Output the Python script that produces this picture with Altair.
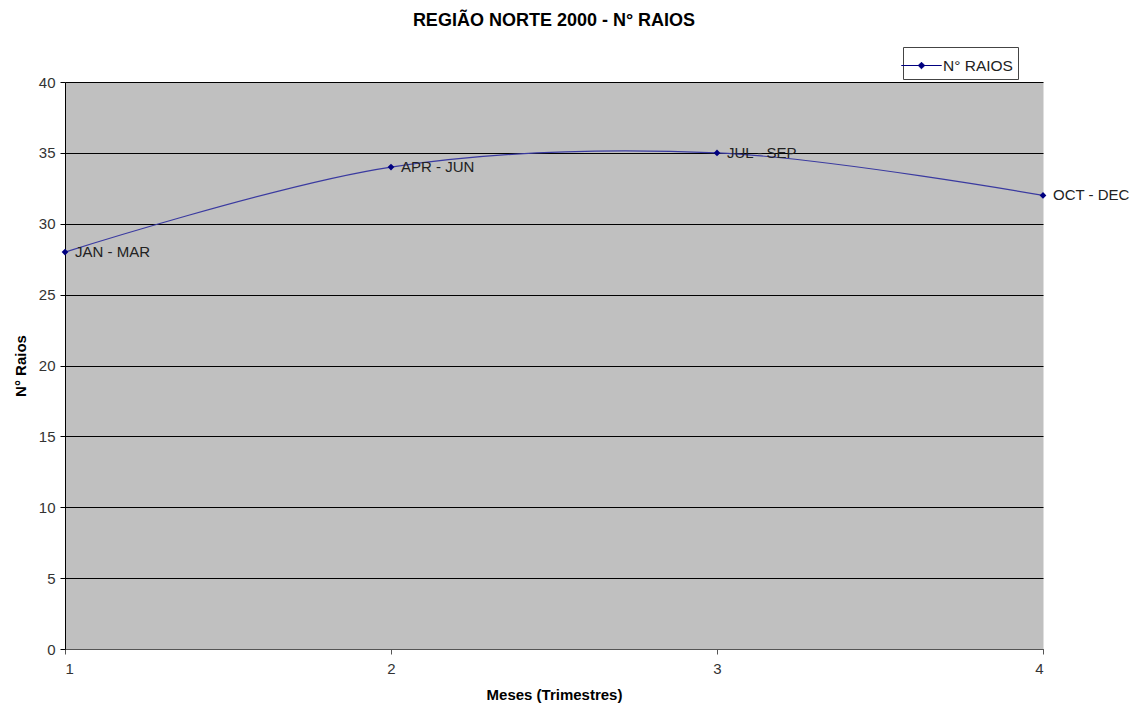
import altair as alt
import pandas as pd

meses = [1, 2, 3, 4]
raios = [28, 34, 35, 32]
rotulos = ["JAN - MAR", "APR - JUN", "JUL - SEP", "OCT - DEC"]
serie = ["N° RAIOS"] * 4

df = pd.DataFrame({"mes": meses, "raios": raios, "rotulo": rotulos, "serie": serie})

x = alt.X("mes:Q", scale=alt.Scale(domain=[1, 4], nice=False),
          axis=alt.Axis(title="Meses (Trimestres)", values=[1, 2, 3, 4], format="d",
                        grid=False, domainColor="#555555", tickColor="#555555",
                        tickSize=5, labelPadding=7, titlePadding=11))
y = alt.Y("raios:Q", scale=alt.Scale(domain=[0, 40], nice=False),
          axis=alt.Axis(title="N° Raios", values=list(range(0, 41, 5)),
                        grid=True, gridColor="#000000", gridWidth=1,
                        domainColor="#000000", tickColor="#000000", tickSize=5,
                        labelPadding=5, titlePadding=10))

color = alt.Color("serie:N", scale=alt.Scale(domain=["N° RAIOS"], range=["#000080"]),
                  legend=alt.Legend(title=None, orient="none", legendX=838, legendY=-35,
                                    strokeColor="#444444", padding=5, fillColor="#ffffff",
                                    symbolType="M-1.6,0L1.6,0M0,-0.26L0.26,0L0,0.26L-0.26,0Z",
                                    symbolSize=640, symbolStrokeWidth=1,
                                    symbolFillColor="#000080", symbolStrokeColor="#000080",
                                    labelFontSize=15.5, labelColor="#222222",
                                    labelFont="Liberation Sans", labelOffset=8))

line = alt.Chart(df).mark_line(interpolate="catmull-rom", color="#3a3aa0", strokeWidth=1.2).encode(
    x=x, y=y)
pts = alt.Chart(df).mark_point(shape="diamond", filled=True, size=45, opacity=1).encode(
    x=x, y=y, color=color)
labels = alt.Chart(df).mark_text(align="left", baseline="middle", dx=10, fontSize=15,
                                 color="#222222", font="Liberation Sans").encode(
    x=x, y=y, text="rotulo:N")

chart = alt.layer(line, pts, labels).properties(
    width=978, height=567,
    background="#ffffff",
    title=alt.TitleParams("REGIÃO NORTE 2000 - N° RAIOS", fontSize=18, font="Liberation Sans",
                          fontWeight="bold", anchor="middle", offset=17, color="#000000"),
    autosize=alt.AutoSizeParams(type="none"),
    padding={"left": 57, "top": 74, "right": 90, "bottom": 58},
).configure_view(fill="#C0C0C0", stroke="transparent").configure_axis(
    labelFont="Liberation Sans", labelFontSize=15, labelColor="#333333",
    titleFont="Liberation Sans", titleFontSize=15, titleFontWeight="bold", titleColor="#000000"
)

chart.save("out.html", embed_options={"renderer": "svg", "actions": False})
